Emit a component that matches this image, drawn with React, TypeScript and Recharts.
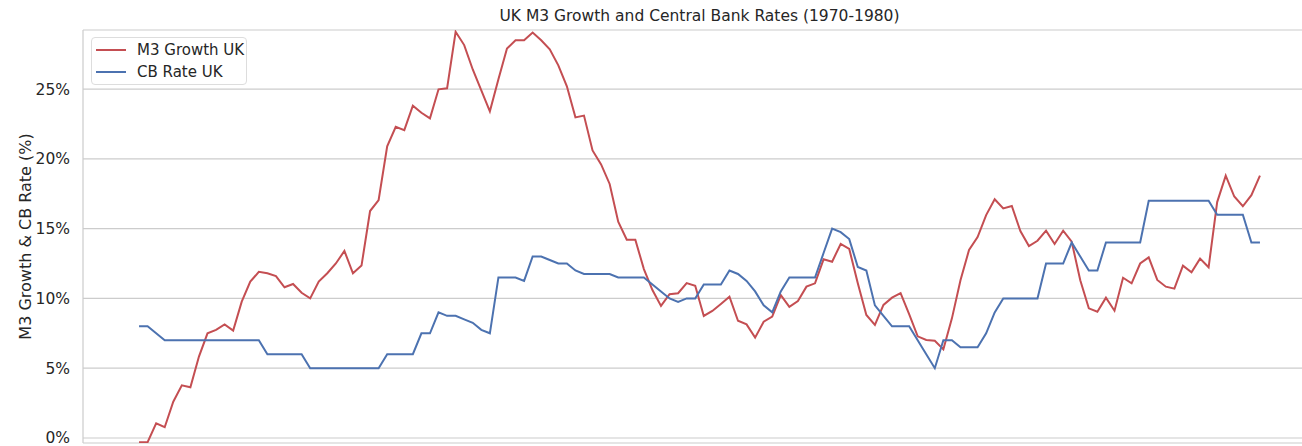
import {
  LineChart,
  Line,
  XAxis,
  YAxis,
  CartesianGrid,
  Legend,
  ReferenceArea,
} from 'recharts'

// monthly values, Jan 1970 .. Dec 1980 (one row per year)
const m3GrowthUK = [
  -0.3, -0.3, 1.05, 0.77, 2.6, 3.77, 3.63, 5.83, 7.5, 7.74, 8.14, 7.69,
  9.77, 11.2, 11.9, 11.8, 11.6, 10.8, 11.03, 10.4, 10.0, 11.2, 11.8, 12.5,
  13.4, 11.8, 12.35, 16.26, 17.05, 20.9, 22.3, 22.06, 23.8, 23.3, 22.9, 24.98,
  25.05, 29.1, 28.15, 26.4, 24.9, 23.4, 25.7, 27.9, 28.5, 28.5, 29.05, 28.5,
  27.85, 26.7, 25.2, 22.97, 23.1, 20.6, 19.6, 18.2, 15.5, 14.2, 14.2, 12.1,
  10.6, 9.46, 10.3, 10.37, 11.1, 10.9, 8.74, 9.1, 9.6, 10.12, 8.4, 8.14,
  7.19, 8.33, 8.69, 10.24, 9.4, 9.81, 10.84, 11.08, 12.8, 12.63, 13.9, 13.54,
  11.08, 8.81, 8.1, 9.53, 10.05, 10.37, 8.87, 7.28, 7.02, 6.97, 6.35, 8.57,
  11.3, 13.47, 14.4, 15.97, 17.1, 16.45, 16.62, 14.83, 13.75, 14.13, 14.85, 13.9,
  14.85, 14.06, 11.3, 9.29, 9.05, 10.05, 9.12, 11.48, 11.08, 12.5, 12.94, 11.32,
  10.84, 10.7, 12.35, 11.87, 12.85, 12.23, 16.9, 18.8, 17.3, 16.6, 17.4, 18.8,
]

const cbRateUK = [
  8, 8, 7.5, 7, 7, 7, 7, 7, 7, 7, 7, 7,
  7, 7, 7, 6, 6, 6, 6, 6, 5, 5, 5, 5,
  5, 5, 5, 5, 5, 6, 6, 6, 6, 7.5, 7.5, 9,
  8.75, 8.75, 8.5, 8.25, 7.75, 7.5, 11.5, 11.5, 11.5, 11.25, 13, 13,
  12.75, 12.5, 12.5, 12, 11.75, 11.75, 11.75, 11.75, 11.5, 11.5, 11.5, 11.5,
  11, 10.5, 10, 9.75, 10, 10, 11, 11, 11, 12, 11.75, 11.25,
  10.5, 9.5, 9, 10.5, 11.5, 11.5, 11.5, 11.5, 13.25, 15, 14.75, 14.25,
  12.25, 12, 9.5, 8.75, 8, 8, 8, 7, 6, 5, 7, 7,
  6.5, 6.5, 6.5, 7.5, 9, 10, 10, 10, 10, 10, 12.5, 12.5,
  12.5, 14, 13, 12, 12, 14, 14, 14, 14, 14, 17, 17,
  17, 17, 17, 17, 17, 17, 16, 16, 16, 16, 14, 14,
]

const seriesNames = ['M3 Growth UK', 'CB Rate UK']
const gridYears = [1970, 1972, 1974, 1976, 1978, 1980]
const yTicks = [0, 5, 10, 15, 20, 25]

const data = m3GrowthUK.map((m3, i) => ({ month: i, m3, cb: cbRateUK[i] }))
const xTicks = gridYears.map((y) => (y - 1970) * 12)

const FONT = "'DejaVu Sans', sans-serif"
const TEXT = '#262626'
const GRID = '#cccccc'

const renderLegend = (props: any) => {
  const items = [...(props.payload || [])].sort(
    (a: any, b: any) => seriesNames.indexOf(a.value) - seriesNames.indexOf(b.value)
  )
  return (
    <div
      style={{
        width: 156,
        boxSizing: 'border-box',
        border: '1px solid #dddddd',
        borderRadius: 4,
        background: 'rgba(255,255,255,0.85)',
        padding: '1px 0 1px 4px',
        fontFamily: FONT,
        fontSize: 15,
        color: TEXT,
      }}
    >
      {items.map((entry: any) => (
        <div
          key={entry.value}
          style={{ display: 'flex', alignItems: 'center', height: 22 }}
        >
          <span
            style={{
              display: 'inline-block',
              width: 30,
              height: 2,
              background: entry.color,
              marginRight: 11,
            }}
          />
          <span>{entry.value}</span>
        </div>
      ))}
    </div>
  )
}

export default function App() {
  return (
    <div
      style={{
        position: 'fixed',
        top: 0,
        left: 0,
        width: 1302,
        height: 446,
        overflow: 'hidden',
        background: '#fff',
        fontFamily: FONT,
      }}
    >
      <div
        style={{
          position: 'absolute',
          top: 7,
          left: 83,
          width: 1233,
          textAlign: 'center',
          fontSize: 15.5,
          color: TEXT,
          lineHeight: 'normal',
        }}
      >
        UK M3 Growth and Central Bank Rates (1970-1980)
      </div>
      <LineChart
        width={1330}
        height={460}
        data={data}
        margin={{ top: 30, right: 14, bottom: 16, left: 0 }}
      >
        <CartesianGrid stroke={GRID} strokeWidth={1.2} />
        <ReferenceArea stroke={GRID} strokeWidth={1.2} fill='none' />
        <XAxis
          type='number'
          dataKey='month'
          domain={[-6.55, 137.55]}
          ticks={xTicks}
          allowDataOverflow
          tick={false}
          tickLine={false}
          axisLine={false}
          height={1}
        />
        <YAxis
          type='number'
          domain={[-0.36, 29.23]}
          ticks={yTicks}
          allowDataOverflow
          width={83}
          tickLine={false}
          axisLine={false}
          tickMargin={7}
          tickFormatter={(v: number) => `${v}%`}
          tick={{ fontSize: 15.5, fill: TEXT, fontFamily: FONT }}
          label={{
            value: 'M3 Growth & CB Rate (%)',
            angle: -90,
            position: 'insideLeft',
            offset: 25,
            style: { textAnchor: 'middle', fontSize: 16, fill: TEXT, fontFamily: FONT },
          }}
        />
        <Legend
          layout='vertical'
          align='center'
          verticalAlign='middle'
          wrapperStyle={{ top: 37, left: 91, width: 160 }}
          content={renderLegend}
        />
        <Line
          type='linear'
          dataKey='m3'
          name='M3 Growth UK'
          stroke='#c44e52'
          strokeWidth={2}
          dot={false}
          isAnimationActive={false}
        />
        <Line
          type='linear'
          dataKey='cb'
          name='CB Rate UK'
          stroke='#4c72b0'
          strokeWidth={2}
          dot={false}
          isAnimationActive={false}
        />
      </LineChart>
    </div>
  )
}
